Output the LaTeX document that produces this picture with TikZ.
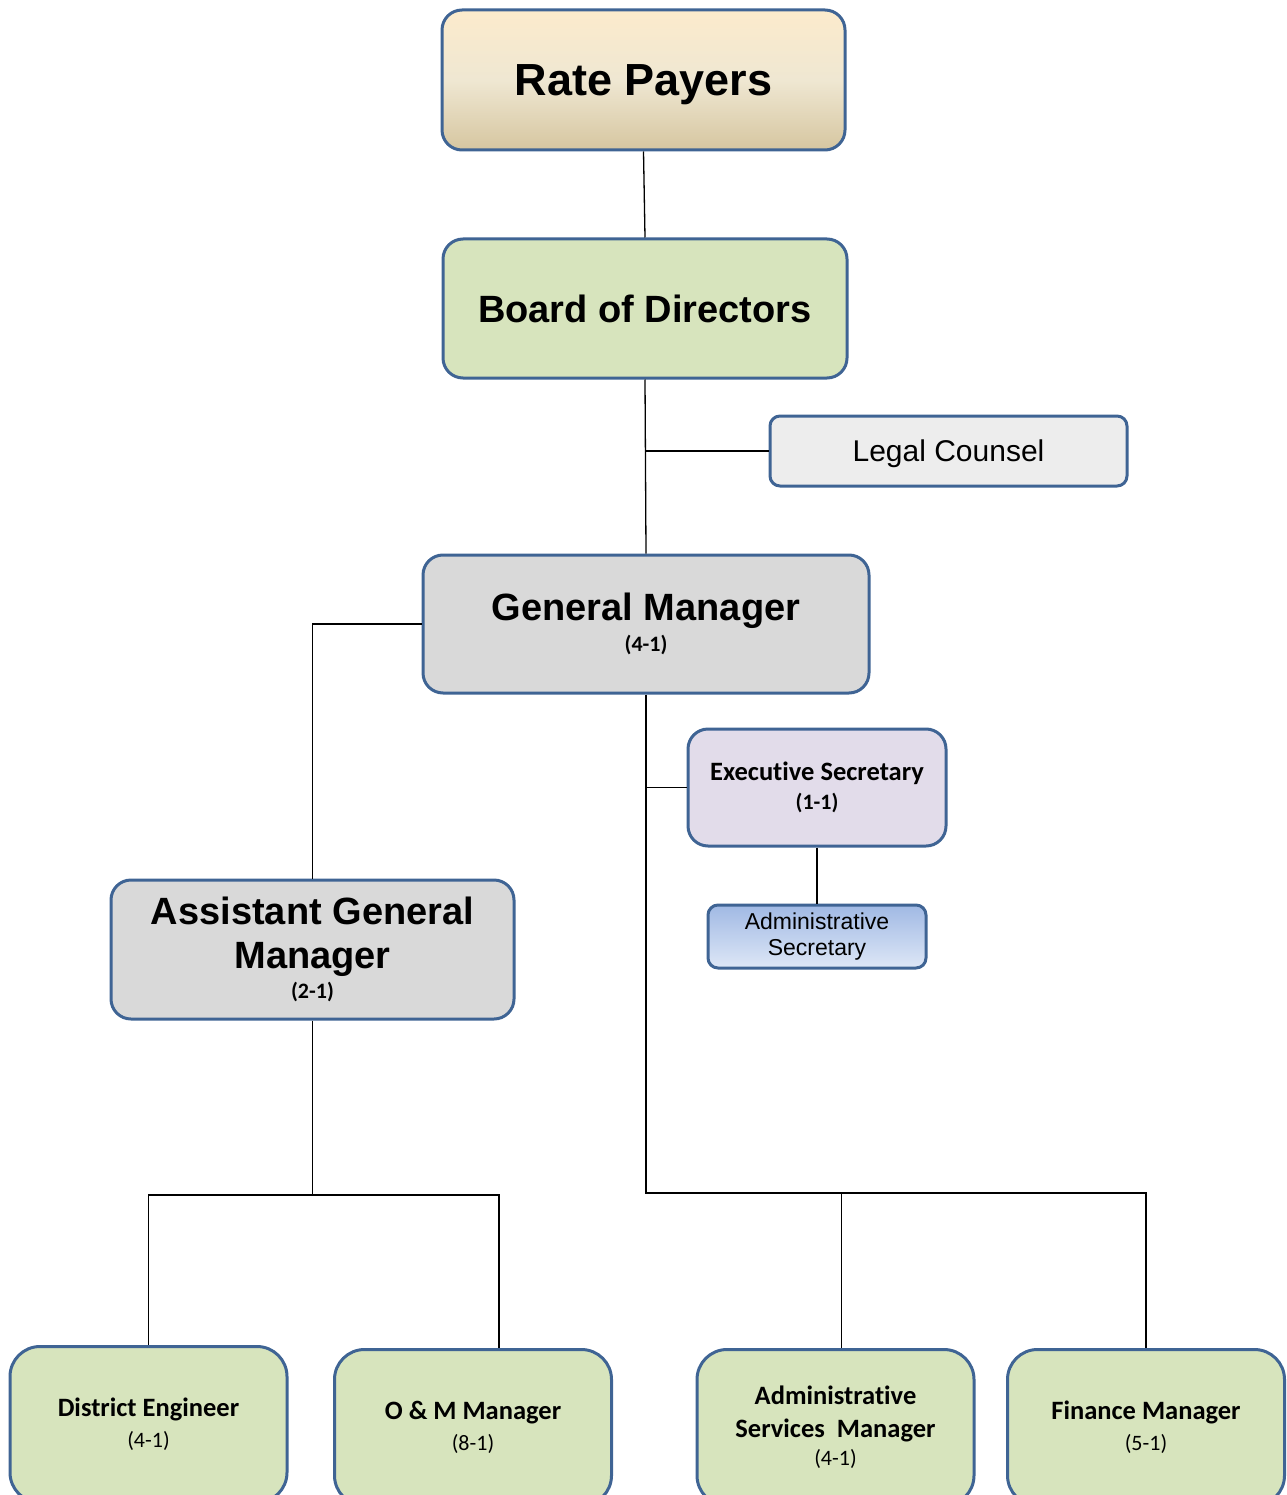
\documentclass[tikz,border=0pt]{standalone}
\usepackage{fontspec}
\setmainfont{Liberation Sans}
\newfontfamily\calibrifont[Ligatures=NoCommon]{Carlito}
\usepackage{tikz}
\usetikzlibrary{positioning,calc}
\definecolor{orgBorder}{HTML}{3F6494}
\definecolor{orgGreen}{HTML}{D7E4BD}
\definecolor{orgGrey}{HTML}{D9D9D9}
\definecolor{orgLight}{HTML}{EDEDED}
\definecolor{orgLilac}{HTML}{E2DCEA}
\definecolor{orgCreamTop}{HTML}{FCEBCC}
\definecolor{orgCreamMid}{HTML}{EFE7D2}
\definecolor{orgCreamBot}{HTML}{D6C6A0}
\definecolor{orgBlueTop}{HTML}{A0B9E4}
\definecolor{orgBlueBot}{HTML}{DEE7F6}
\newcommand{\orgcount}[1]{{\calibrifont\bfseries\fontsize{22}{28}\selectfont #1}}
\newcommand{\orgnum}[1]{{\calibrifont\mdseries\fontsize{22}{28}\selectfont #1}}
\tikzset{
  org/unit/.style={draw=orgBorder, line width=3pt, rounded corners=20pt, align=center, inner sep=4pt},
  org/head/.style={org/unit, font=\bfseries\fontsize{38}{44}\selectfont},
  org/small/.style={org/unit, rounded corners=10pt},
  org/dept/.style={org/unit, fill=orgGreen, rounded corners=30pt, minimum width=277pt, minimum height=156pt,
    anchor=north, font=\calibrifont\bfseries\fontsize{26.5}{33}\selectfont},
  org/line/.style={line width=1.3pt}
}

\begin{document}
\begin{tikzpicture}[x=1pt, y=-1pt]
\useasboundingbox (0,0) rectangle (1286,1495);

\node[org/head, minimum width=403pt, minimum height=140pt, text depth=0pt, font=\bfseries\fontsize{45}{50}\selectfont,
  top color=orgCreamTop, bottom color=orgCreamBot, middle color=orgCreamMid] (payers) at (643.5,80) {Rate Payers};
\node[org/head, fill=orgGreen, minimum width=404pt, minimum height=139pt] (board) at (645,308.5) {Board of Directors};
\node[org/small, fill=orgLight, minimum width=357pt, minimum height=70pt, text depth=0pt,
  font=\fontsize{30}{34}\selectfont] (legal) at (948.5,451) {Legal Counsel};

\node[org/head, fill=orgGrey, minimum width=446pt, minimum height=138pt] (gm) at (646,624)
  {General Manager\\[-13pt]\orgcount{(4-1)}};
\node[org/unit, fill=orgLilac, minimum width=258pt, minimum height=117pt,
  font=\calibrifont\bfseries\fontsize{26.5}{33}\selectfont] (es) at (817,787.5)
  {Executive Secretary\\[-4pt]\orgcount{(1-1)}};
\node[org/small, minimum width=218pt, minimum height=63pt, top color=orgBlueTop, bottom color=orgBlueBot,
  font=\fontsize{23}{26}\selectfont] (as) at (817,936.5) {Administrative\\Secretary};
\node[org/head, fill=orgGrey, minimum width=403pt, minimum height=139pt] (agm) at (312.5,949.5)
  {Assistant General\\Manager\\[-14pt]\orgcount{(2-1)}};

% departments
\node[org/dept] (de) at (148.5,1345) {District Engineer\\[-2pt]\orgnum{(4-1)}};
\node[org/dept] (om) at (473,1348) {O \& M Manager\\[-2pt]\orgnum{(8-1)}};
\node[org/dept] (asm) at (835.5,1348) {Administrative\\Services~~Manager\\[-5pt]\orgnum{(4-1)}};
\node[org/dept] (fm) at (1146,1348) {Finance Manager\\[-2pt]\orgnum{(5-1)}};

% connectors
\draw[org/line] (payers.south) -- (board.north);
\draw[org/line] (board.south) -- (gm.north);
\draw[org/line] (legal.west) -- (legal.west -| board.south);
\draw[org/line] (gm.west) -| (agm.north);

\coordinate (gmfoot) at (gm.south |- 0,1193);
\coordinate (asmtop) at ([xshift=6pt]asm.north);
\draw[org/line] (gm.south) -- (gmfoot) -- (gmfoot -| fm.north) -- (fm.north);
\draw[org/line] (es.west) -- (es.west -| gm.south);
\draw[org/line] (es.south) -- (as.north);
\draw[org/line] (asmtop) -- (asmtop |- gmfoot);

\coordinate (agmfoot) at (agm.south |- 0,1195);
\coordinate (omtop) at ([xshift=26pt]om.north);
\draw[org/line] (agm.south) -- (agmfoot);
\draw[org/line] (de.north) -- (de.north |- agmfoot) -- (omtop |- agmfoot) -- (omtop);
\end{tikzpicture}
\end{document}
